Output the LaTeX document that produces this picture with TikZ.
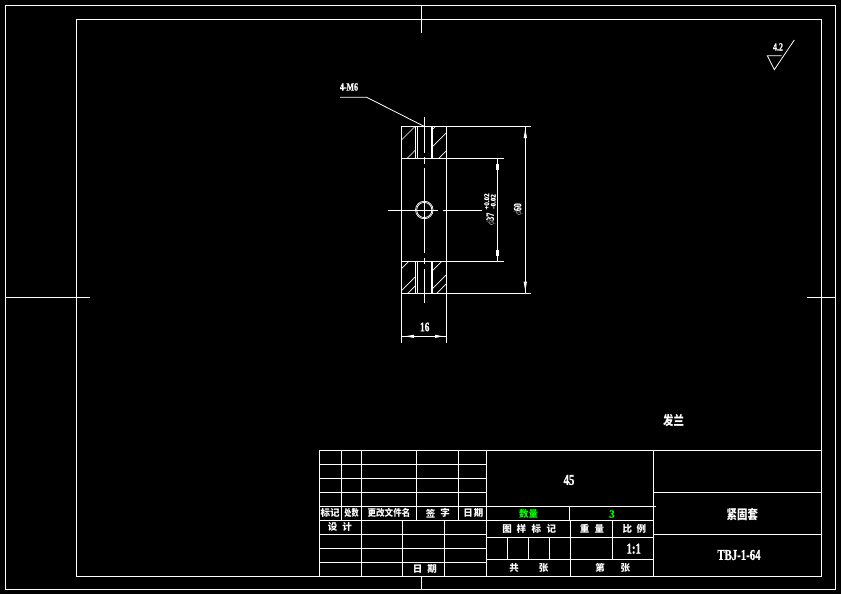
\documentclass[tikz,border=0pt]{standalone}
\usepackage{fontspec}
\setmainfont[BoldFeatures={FakeBold=1.2}]{Liberation Serif}
\newfontfamily\cjk{Noto Sans CJK SC}
\usetikzlibrary{positioning}
\definecolor{qtygreen}{RGB}{0,255,0}
\newcommand{\narrow}[1]{\scalebox{0.72}[1]{#1}}
\tikzstyle{drawing}=[
  x=1pt,y=-1pt,line width=0.8pt,color=white
]
\tikzstyle{thinline}=[
  line width=0.7pt,white
]
\tikzstyle{cadtext}=[
  text=white,inner sep=0pt,font=\fontsize{15}{15}\selectfont\bfseries
]
\tikzstyle{dimtext}=[
  text=white,inner sep=0pt,font=\fontsize{11}{11}\selectfont\bfseries
]
\tikzstyle{cjktext}=[
  text=white,inner sep=0pt,font=\fontsize{9.5}{10}\selectfont\cjk\bfseries
]
\tikzstyle{bigcjk}=[
  text=white,inner sep=0pt,font=\fontsize{13}{13}\selectfont\cjk\bfseries
]
\begin{document}
\begin{tikzpicture}[drawing]
    \useasboundingbox (0,0) rectangle (841,594);
    \fill[black] (0,0) rectangle (841,594);
    % frames and centring marks
    \draw (5,5) rectangle (835,589);
    \draw (76.5,19) rectangle (821.5,576.3);
    \draw (421,5) -- (421,33);
    \draw (421,576.3) -- (421,589);
    \draw (6,297) -- (90,297);
    \draw (807,297) -- (835,297);
    % part outline and extension lines
    \draw (401.3,126.3) -- (401.3,342.7);
    \draw (446.3,126.3) -- (446.3,342.7);
    \draw (401.3,126.3) -- (531,126.3);
    \draw (401.3,158.3) -- (504,158.3);
    \draw (401.3,261.3) -- (504,261.3);
    \draw (401.3,293.3) -- (531,293.3);
    % holes
    \foreach \ya/\yb in {126.3/158.3,261.3/293.3} {
      \draw (415.5,\ya) -- (415.5,\yb);
      \draw (417.5,\ya) -- (417.5,\yb);
      \draw (431.7,\ya) -- (431.7,\yb);
      \draw (432.7,\ya) -- (432.7,\yb);
    }
    % hatching
    \begin{scope}
      \clip (401.3,126.3) rectangle (415.5,158.3);
      \foreach \c in {541.5,565.5}
        \draw[thinline] ({\c-426.3},426.3) -- ({\c-126.3},126.3);
    \end{scope}
    \begin{scope}
      \clip (432.7,126.3) rectangle (446.3,158.3);
      \foreach \c in {562,579,597}
        \draw[thinline] ({\c-426.3},426.3) -- ({\c-126.3},126.3);
    \end{scope}
    \begin{scope}
      \clip (401.3,261.3) rectangle (415.5,293.3);
      \foreach \c in {670,692,701}
        \draw[thinline] ({\c-426.3},426.3) -- ({\c-126.3},126.3);
    \end{scope}
    \begin{scope}
      \clip (432.7,261.3) rectangle (446.3,293.3);
      \foreach \c in {703,721,730}
        \draw[thinline] ({\c-426.3},426.3) -- ({\c-126.3},126.3);
    \end{scope}
    % centre lines
    \foreach \ya/\yb in {117/152.7,156.7/164,167.7/202,218/252.7,258.3/264,269/303}
      \draw (424.3,\ya) -- (424.3,\yb);
    \draw (388,210) -- (437.7,210);
    \draw (443,210) -- (482,210);
    \draw (424.3,202) -- (424.3,218);
    % bore
    \draw (424.3,210) circle (7.6);
    \draw[thinline] (424.3,210) circle (8.8);
    % leader
    \coordinate (leadstart) at (340,97.3);
    \coordinate (leadknee) at (366.7,97.3);
    \coordinate (leadend) at (424,126.3);
    \draw (leadstart) -- (leadknee) -- (leadend);
    \node[dimtext] (holes) at (349,87) {\narrow{4-M6}};
    % dimension lines
    \draw (525.3,126.3) -- (525.3,293.3);
    \draw (497.3,158.3) -- (497.3,261.3);
    \draw (401.3,336.3) -- (446.3,336.3);
    \fill (525.3,128.5) -- (527,138) -- (523.6,138) -- cycle;
    \fill (525.3,291) -- (527,281.5) -- (523.6,281.5) -- cycle;
    \fill (495.9,164) rectangle (498.7,170);
    \fill (495.9,250) rectangle (498.7,256);
    \fill (405,336.3) -- (414,334.7) -- (414,338) -- cycle;
    \fill (443,336.3) -- (435,334.7) -- (435,338) -- cycle;
    \node[dimtext,font=\fontsize{13}{13}\selectfont\bfseries] (width) at (424.7,327) {\narrow{16}};
    \node[dimtext,rotate=90] (outer) at (518.5,209.5) {\narrow{$\phi$60}};
    \node[dimtext,rotate=90] (inner) at (491,219) {\narrow{$\phi$37}};
    \node[rotate=90,text=white,inner sep=0pt,font=\fontsize{7}{7}\selectfont\bfseries,align=center] (tol) at (490,201.5) {+0.02\\[-0.5pt]-0.02};
    % roughness
    \coordinate (ra) at (767.3,55.7);
    \coordinate (rb) at (781.5,55.7);
    \coordinate (rc) at (774.3,69.7);
    \coordinate (rd) at (794.3,40);
    \draw (rb) -- (ra) -- (rc) -- (rd);
    \node[dimtext] (rough) at (778,47) {\narrow{4.2}};
    % title block grid
    \draw (319.3,450.3) rectangle (653.3,576.3);
    \draw (653.3,450.3) rectangle (821.5,576.3);
    \foreach \y in {464.3,478.3,492.3,506.3,520.3,534.3,548.3,562.3}
      \draw (319.3,\y) -- (486.3,\y);
    \draw (486.3,450.3) -- (486.3,576.3);
    \draw (341.7,450.3) -- (341.7,520.3);
    \draw (361.3,450.3) -- (361.3,576.3);
    \draw (416.3,450.3) -- (416.3,520.3);
    \draw (458.7,450.3) -- (458.7,520.3);
    \draw (402.3,520.3) -- (402.3,576.3);
    \draw (444,520.3) -- (444,576.3);
    \draw (486.3,506.3) -- (656,506.3);
    \foreach \y in {520.3,537.3,559.3}
      \draw (486.3,\y) -- (653.3,\y);
    \draw (569.3,506.3) -- (569.3,520.3);
    \draw (570.3,520.3) -- (570.3,576.3);
    \draw (612.3,520.3) -- (612.3,559.3);
    \foreach \x in {507.3,528.3,549.3}
      \draw (\x,537.3) -- (\x,559.3);
    \draw (653.3,492.3) -- (821.5,492.3);
    \draw (653.3,534.3) -- (821.5,534.3);
    % title block text
    \node[cjktext] (mark) at (330,513.3) {标记};
    \node[cjktext] (zones) at (351.5,513.3) {\scalebox{0.75}[1]{处数}};
    \node[cjktext] (change) at (389,513.3) {\scalebox{0.9}[1]{更改文件名}};
    \node[cjktext] (signa) at (430.7,513.3) {签};
    \node[cjktext] (signb) at (445,513.3) {字};
    \node[cjktext] (datea) at (468,513.3) {日};
    \node[cjktext] (dateb) at (478.7,513.3) {期};
    \node[cjktext] (designa) at (332.7,527.3) {设};
    \node[cjktext] (designb) at (347,527.3) {计};
    \node[cjktext] (datec) at (417.7,569.3) {日};
    \node[cjktext] (dated) at (432,569.3) {期};
    \node[cadtext] (material) at (569,480) {\narrow{45}};
    \node[cjktext,text=qtygreen] (qty) at (528.7,513.7) {数量};
    \node[dimtext,text=qtygreen] (qtyval) at (612,514) {3};
    \node[cjktext] (patterna) at (507,528.7) {图};
    \node[cjktext] (patternb) at (521.3,528.7) {样};
    \node[cjktext] (patternc) at (536.3,528.7) {标};
    \node[cjktext] (patternd) at (551.3,528.7) {记};
    \node[cjktext] (weighta) at (584.7,528.7) {重};
    \node[cjktext] (weightb) at (599.3,528.7) {量};
    \node[cjktext] (ratioa) at (627.3,528.7) {比};
    \node[cjktext] (ratiob) at (641.3,528.7) {例};
    \node[cadtext] (ratio) at (633.7,548.7) {\narrow{1:1}};
    \node[cjktext] (tota) at (514,568) {共};
    \node[cjktext] (totb) at (543.7,568) {张};
    \node[cjktext] (shta) at (600,568) {第};
    \node[cjktext] (shtb) at (625.3,568) {张};
    \node[bigcjk] (flange) at (673.5,421) {\scalebox{0.8}[1]{发兰}};
    \node[bigcjk] (title) at (742.3,515) {\scalebox{0.8}[1]{紧固套}};
    \node[cadtext] (number) at (739,555) {\narrow{TBJ-1-64}};
\end{tikzpicture}
\end{document}
